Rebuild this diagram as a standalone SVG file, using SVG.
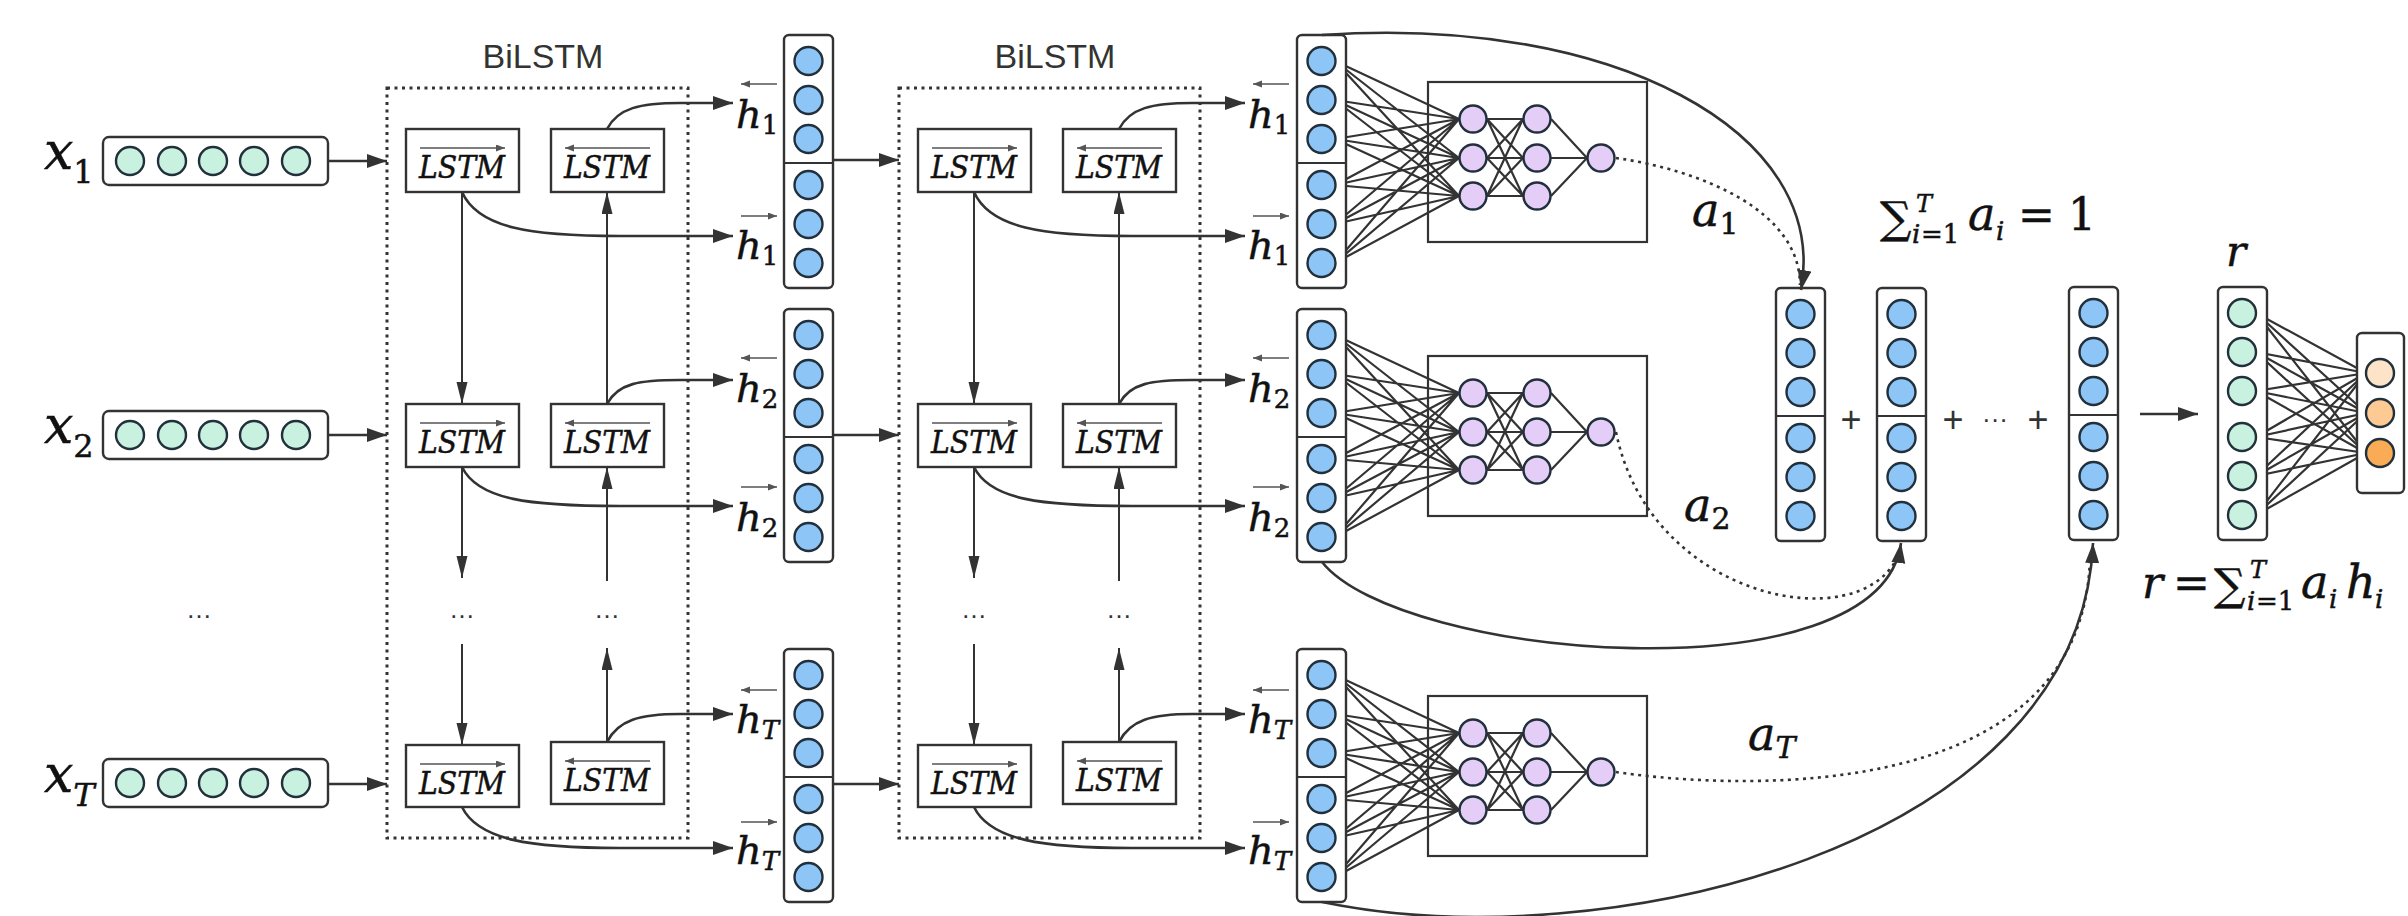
<svg xmlns="http://www.w3.org/2000/svg" width="2408" height="916" viewBox="0 0 2408 916">
<defs>
<style>
.ln{fill:none;stroke:#333;stroke-width:2.2}
.cv{fill:none;stroke:#333;stroke-width:2.6}
.vl{fill:none;stroke:#333;stroke-width:2}
.dt{fill:none;stroke:#333;stroke-width:2.6;stroke-dasharray:3 4.5}
.dbox{fill:none;stroke:#333;stroke-width:3;stroke-dasharray:3 4.5}
.box{fill:#fff;stroke:#333;stroke-width:2.4}
.vec{fill:#fff;stroke:#333;stroke-width:2.4}
.nb{fill:#8ec5f7;stroke:#22303c;stroke-width:2.4}
.ng{fill:#c8f2df;stroke:#22303c;stroke-width:2.4}
.np{fill:#e4cdf7;stroke:#22303c;stroke-width:2.4}
.o1{fill:#fde3c8;stroke:#22303c;stroke-width:2.4}
.o2{fill:#fcca92;stroke:#22303c;stroke-width:2.4}
.o3{fill:#f9ab55;stroke:#22303c;stroke-width:2.4}
.w{fill:none;stroke:#333;stroke-width:2.2}
.m{font-family:"DejaVu Serif","Liberation Serif",serif;font-style:italic;fill:#111;stroke:#111;stroke-width:0.5}
.up{font-style:normal}
.t{font-family:"Liberation Sans",Arial,sans-serif;fill:#333}
.ov{fill:none;stroke:#555;stroke-width:1.6}
</style>
<marker id="ah" markerUnits="userSpaceOnUse" markerWidth="22" markerHeight="16" refX="20" refY="7" orient="auto"><path d="M0,0 L20,7 L0,14 z" fill="#333"/></marker>
<marker id="av" markerUnits="userSpaceOnUse" markerWidth="24" markerHeight="12" refX="22" refY="5.5" orient="auto"><path d="M0,0 L22,5.5 L0,11 z" fill="#333"/></marker>
<marker id="as" markerUnits="userSpaceOnUse" markerWidth="10" markerHeight="8" refX="9" refY="3.5" orient="auto"><path d="M0,0 L9,3.5 L0,7 z" fill="#555"/></marker>
<g id="col6">
<rect class="vec" x="0" y="0" width="49" height="253" rx="5"/>
<line class="w" x1="0" y1="128" x2="49" y2="128"/>
<circle class="nb" cx="24.5" cy="26" r="14"/>
<circle class="nb" cx="24.5" cy="65" r="14"/>
<circle class="nb" cx="24.5" cy="104" r="14"/>
<circle class="nb" cx="24.5" cy="150" r="14"/>
<circle class="nb" cx="24.5" cy="189" r="14"/>
<circle class="nb" cx="24.5" cy="228" r="14"/>
</g>
<g id="xin">
<rect class="vec" x="0" y="0" width="225" height="48" rx="6"/>
<circle class="ng" cx="27" cy="24" r="14"/>
<circle class="ng" cx="69" cy="24" r="14"/>
<circle class="ng" cx="110" cy="24" r="14"/>
<circle class="ng" cx="151" cy="24" r="14"/>
<circle class="ng" cx="193" cy="24" r="14"/>
</g>
<g id="mlp">
<rect class="w" x="131" y="47" width="219" height="160"/>
<path class="ln" d="M38 26L162 84M38 26L162 123M38 26L162 161M38 65L162 84M38 65L162 123M38 65L162 161M38 104L162 84M38 104L162 123M38 104L162 161M38 150L162 84M38 150L162 123M38 150L162 161M38 189L162 84M38 189L162 123M38 189L162 161M38 228L162 84M38 228L162 123M38 228L162 161M190 84L226 84M190 84L226 123M190 84L226 161M190 123L226 84M190 123L226 123M190 123L226 161M190 161L226 84M190 161L226 123M190 161L226 161M254 84L290 123M254 123L290 123M254 161L290 123"/>
<circle class="np" cx="176" cy="84" r="13.5"/>
<circle class="np" cx="176" cy="123" r="13.5"/>
<circle class="np" cx="176" cy="161" r="13.5"/>
<circle class="np" cx="240" cy="84" r="13.5"/>
<circle class="np" cx="240" cy="123" r="13.5"/>
<circle class="np" cx="240" cy="161" r="13.5"/>
<circle class="np" cx="304" cy="123" r="13.5"/>
</g>
</defs>
<rect x="0" y="0" width="2408" height="916" fill="#fff"/>

<!-- inputs -->
<g id="x1"><use href="#xin" x="103" y="137"/><text class="m" x="44" y="169" font-size="52">x<tspan class="up" font-size="32" dy="14">1</tspan></text></g>
<g id="x2"><use href="#xin" x="103" y="411"/><text class="m" x="44" y="443" font-size="52">x<tspan class="up" font-size="32" dy="14">2</tspan></text></g>
<g id="xT"><use href="#xin" x="103" y="759"/><text class="m" x="44" y="792" font-size="52">x<tspan font-size="32" dy="14">T</tspan></text></g>
<text class="t" x="199" y="618" font-size="26" text-anchor="middle">…</text>

<!-- BiLSTM 1 -->
<g id="bilstm1">
<rect class="dbox" x="387" y="88" width="301" height="750"/>
<text class="t" x="543" y="68" font-size="34" text-anchor="middle">BiLSTM</text>
</g>
<g id="lf1_1"><rect class="box" x="406" y="129" width="113" height="63"/><line class="ov" x1="420" y1="148" x2="505" y2="148" marker-end="url(#as)"/><text class="m" x="462" y="178" font-size="31" text-anchor="middle" textLength="86" lengthAdjust="spacingAndGlyphs">LSTM</text></g>
<g id="lb1_1"><rect class="box" x="551" y="129" width="113" height="63"/><line class="ov" x1="650" y1="148" x2="565" y2="148" marker-end="url(#as)"/><text class="m" x="607" y="178" font-size="31" text-anchor="middle" textLength="86" lengthAdjust="spacingAndGlyphs">LSTM</text></g>
<g id="lf1_2"><rect class="box" x="406" y="404" width="113" height="63"/><line class="ov" x1="420" y1="423" x2="505" y2="423" marker-end="url(#as)"/><text class="m" x="462" y="453" font-size="31" text-anchor="middle" textLength="86" lengthAdjust="spacingAndGlyphs">LSTM</text></g>
<g id="lb1_2"><rect class="box" x="551" y="404" width="113" height="63"/><line class="ov" x1="650" y1="423" x2="565" y2="423" marker-end="url(#as)"/><text class="m" x="607" y="453" font-size="31" text-anchor="middle" textLength="86" lengthAdjust="spacingAndGlyphs">LSTM</text></g>
<g id="lf1_T"><rect class="box" x="406" y="745" width="113" height="62"/><line class="ov" x1="420" y1="764" x2="505" y2="764" marker-end="url(#as)"/><text class="m" x="462" y="794" font-size="31" text-anchor="middle" textLength="86" lengthAdjust="spacingAndGlyphs">LSTM</text></g>
<g id="lb1_T"><rect class="box" x="551" y="742" width="113" height="62"/><line class="ov" x1="650" y1="761" x2="565" y2="761" marker-end="url(#as)"/><text class="m" x="607" y="791" font-size="31" text-anchor="middle" textLength="86" lengthAdjust="spacingAndGlyphs">LSTM</text></g>
<text class="t" x="462" y="618" font-size="26" text-anchor="middle">…</text>
<text class="t" x="607" y="618" font-size="26" text-anchor="middle">…</text>

<!-- BiLSTM 1 outputs -->
<g id="h1_1"><use href="#col6" x="784" y="35"/></g>
<g id="h1_2"><use href="#col6" x="784" y="309"/></g>
<g id="h1_T"><use href="#col6" x="784" y="649"/></g>

<!-- BiLSTM 2 -->
<g id="bilstm2">
<rect class="dbox" x="899" y="88" width="301" height="750"/>
<text class="t" x="1055" y="68" font-size="34" text-anchor="middle">BiLSTM</text>
</g>
<g id="lf2_1"><rect class="box" x="918" y="129" width="113" height="63"/><line class="ov" x1="932" y1="148" x2="1017" y2="148" marker-end="url(#as)"/><text class="m" x="974" y="178" font-size="31" text-anchor="middle" textLength="86" lengthAdjust="spacingAndGlyphs">LSTM</text></g>
<g id="lb2_1"><rect class="box" x="1063" y="129" width="113" height="63"/><line class="ov" x1="1162" y1="148" x2="1077" y2="148" marker-end="url(#as)"/><text class="m" x="1119" y="178" font-size="31" text-anchor="middle" textLength="86" lengthAdjust="spacingAndGlyphs">LSTM</text></g>
<g id="lf2_2"><rect class="box" x="918" y="404" width="113" height="63"/><line class="ov" x1="932" y1="423" x2="1017" y2="423" marker-end="url(#as)"/><text class="m" x="974" y="453" font-size="31" text-anchor="middle" textLength="86" lengthAdjust="spacingAndGlyphs">LSTM</text></g>
<g id="lb2_2"><rect class="box" x="1063" y="404" width="113" height="63"/><line class="ov" x1="1162" y1="423" x2="1077" y2="423" marker-end="url(#as)"/><text class="m" x="1119" y="453" font-size="31" text-anchor="middle" textLength="86" lengthAdjust="spacingAndGlyphs">LSTM</text></g>
<g id="lf2_T"><rect class="box" x="918" y="745" width="113" height="62"/><line class="ov" x1="932" y1="764" x2="1017" y2="764" marker-end="url(#as)"/><text class="m" x="974" y="794" font-size="31" text-anchor="middle" textLength="86" lengthAdjust="spacingAndGlyphs">LSTM</text></g>
<g id="lb2_T"><rect class="box" x="1063" y="742" width="113" height="62"/><line class="ov" x1="1162" y1="761" x2="1077" y2="761" marker-end="url(#as)"/><text class="m" x="1119" y="791" font-size="31" text-anchor="middle" textLength="86" lengthAdjust="spacingAndGlyphs">LSTM</text></g>
<text class="t" x="974" y="618" font-size="26" text-anchor="middle">…</text>
<text class="t" x="1119" y="618" font-size="26" text-anchor="middle">…</text>

<!-- BiLSTM 2 outputs + attention MLPs -->
<g id="mlp1"><use href="#mlp" x="1297" y="35"/></g>
<g id="mlp2"><use href="#mlp" x="1297" y="309"/></g>
<g id="mlpT"><use href="#mlp" x="1297" y="649"/></g>
<g id="h2_1"><use href="#col6" x="1297" y="35"/></g>
<g id="h2_2"><use href="#col6" x="1297" y="309"/></g>
<g id="h2_T"><use href="#col6" x="1297" y="649"/></g>

<!-- h labels -->
<g id="hlabels">
<line class="ov" x1="777" y1="84" x2="741" y2="84" marker-end="url(#as)"/><text class="m" x="736" y="128" font-size="40">h<tspan class="up" font-size="26" dy="6">1</tspan></text>
<line class="ov" x1="741" y1="216" x2="777" y2="216" marker-end="url(#as)"/><text class="m" x="736" y="259" font-size="40">h<tspan class="up" font-size="26" dy="6">1</tspan></text>
<line class="ov" x1="777" y1="358" x2="741" y2="358" marker-end="url(#as)"/><text class="m" x="736" y="402" font-size="40">h<tspan class="up" font-size="26" dy="6">2</tspan></text>
<line class="ov" x1="741" y1="487" x2="777" y2="487" marker-end="url(#as)"/><text class="m" x="736" y="531" font-size="40">h<tspan class="up" font-size="26" dy="6">2</tspan></text>
<line class="ov" x1="777" y1="690" x2="741" y2="690" marker-end="url(#as)"/><text class="m" x="736" y="733" font-size="40">h<tspan font-size="26" dy="6">T</tspan></text>
<line class="ov" x1="741" y1="822" x2="777" y2="822" marker-end="url(#as)"/><text class="m" x="736" y="864" font-size="40">h<tspan font-size="26" dy="6">T</tspan></text>
<line class="ov" x1="1289" y1="84" x2="1253" y2="84" marker-end="url(#as)"/><text class="m" x="1248" y="128" font-size="40">h<tspan class="up" font-size="26" dy="6">1</tspan></text>
<line class="ov" x1="1253" y1="216" x2="1289" y2="216" marker-end="url(#as)"/><text class="m" x="1248" y="259" font-size="40">h<tspan class="up" font-size="26" dy="6">1</tspan></text>
<line class="ov" x1="1289" y1="358" x2="1253" y2="358" marker-end="url(#as)"/><text class="m" x="1248" y="402" font-size="40">h<tspan class="up" font-size="26" dy="6">2</tspan></text>
<line class="ov" x1="1253" y1="487" x2="1289" y2="487" marker-end="url(#as)"/><text class="m" x="1248" y="531" font-size="40">h<tspan class="up" font-size="26" dy="6">2</tspan></text>
<line class="ov" x1="1289" y1="690" x2="1253" y2="690" marker-end="url(#as)"/><text class="m" x="1248" y="733" font-size="40">h<tspan font-size="26" dy="6">T</tspan></text>
<line class="ov" x1="1253" y1="822" x2="1289" y2="822" marker-end="url(#as)"/><text class="m" x="1248" y="864" font-size="40">h<tspan font-size="26" dy="6">T</tspan></text>
</g>

<!-- attention sum columns -->
<g id="s1"><use href="#col6" x="1776" y="288"/></g>
<g id="s2"><use href="#col6" x="1877" y="288"/></g>
<g id="sT"><use href="#col6" x="2069" y="287"/></g>
<g id="ops">
<text class="t" x="1851" y="432" font-size="36" text-anchor="middle">+</text>
<text class="t" x="1953" y="432" font-size="36" text-anchor="middle">+</text>
<text class="t" x="1995" y="428" font-size="26" text-anchor="middle">···</text>
<text class="t" x="2038" y="432" font-size="36" text-anchor="middle">+</text>
</g>

<!-- r and output -->
<g id="out_net">
<path class="ln" d="M2256 313L2366 373M2256 313L2366 413M2256 313L2366 453M2256 352L2366 373M2256 352L2366 413M2256 352L2366 453M2256 391L2366 373M2256 391L2366 413M2256 391L2366 453M2256 437L2366 373M2256 437L2366 413M2256 437L2366 453M2256 476L2366 373M2256 476L2366 413M2256 476L2366 453M2256 515L2366 373M2256 515L2366 413M2256 515L2366 453"/>
</g>
<g id="r">
<rect class="vec" x="2218" y="287" width="49" height="253" rx="5"/>
<circle class="ng" cx="2242" cy="313" r="14"/>
<circle class="ng" cx="2242" cy="352" r="14"/>
<circle class="ng" cx="2242" cy="391" r="14"/>
<circle class="ng" cx="2242" cy="437" r="14"/>
<circle class="ng" cx="2242" cy="476" r="14"/>
<circle class="ng" cx="2242" cy="515" r="14"/>
<text class="m" x="2226" y="266" font-size="42">r</text>
</g>
<g id="y">
<rect class="vec" x="2357" y="333" width="47" height="160" rx="5"/>
<circle class="o1" cx="2380" cy="373" r="14"/>
<circle class="o2" cx="2380" cy="413" r="14"/>
<circle class="o3" cx="2380" cy="453" r="14"/>
</g>

<!-- formulas and weights -->
<g id="labels">
<text class="m" x="1692" y="226" font-size="46">a<tspan class="up" font-size="30" dy="8">1</tspan></text>
<text class="m" x="1684" y="521" font-size="46">a<tspan class="up" font-size="30" dy="8">2</tspan></text>
<text class="m" x="1748" y="750" font-size="46">a<tspan font-size="30" dy="8">T</tspan></text>
<text class="m" font-size="44"><tspan class="up" x="1880" y="233">∑</tspan><tspan font-size="24" x="1916" y="212">T</tspan><tspan font-size="26" x="1912" y="243">i</tspan><tspan class="up" font-size="26" x="1921" y="243">=1</tspan><tspan font-size="46" x="1968" y="230">a</tspan><tspan font-size="26" x="1996" y="240">i</tspan><tspan class="up" x="2018" y="230">=</tspan><tspan class="up" x="2068" y="230">1</tspan></text>
<text class="m" font-size="44"><tspan x="2142" y="598">r</tspan><tspan class="up" x="2173" y="598">=</tspan><tspan class="up" x="2214" y="600">∑</tspan><tspan font-size="24" x="2250" y="578">T</tspan><tspan font-size="26" x="2247" y="610">i</tspan><tspan class="up" font-size="26" x="2256" y="610">=1</tspan><tspan font-size="46" x="2301" y="598">a</tspan><tspan font-size="26" x="2329" y="608">i</tspan><tspan font-size="46" x="2346" y="598">h</tspan><tspan font-size="26" x="2375" y="608">i</tspan></text>
</g>

<!-- connectors -->
<g id="connectors">
<path class="cv" d="M328 161H387" marker-end="url(#ah)"/>
<path class="cv" d="M328 435H387" marker-end="url(#ah)"/>
<path class="cv" d="M328 784H387" marker-end="url(#ah)"/>
<path class="cv" d="M834 160H899" marker-end="url(#ah)"/>
<path class="cv" d="M834 435H899" marker-end="url(#ah)"/>
<path class="cv" d="M834 784H899" marker-end="url(#ah)"/>
<path class="cv" d="M2140 414H2198" marker-end="url(#ah)"/>

<path class="vl" d="M462 192V404" marker-end="url(#av)"/>
<path class="vl" d="M462 467V578" marker-end="url(#av)"/>
<path class="vl" d="M462 644V745" marker-end="url(#av)"/>
<path class="vl" d="M607 404V192" marker-end="url(#av)"/>
<path class="vl" d="M607 581V467" marker-end="url(#av)"/>
<path class="vl" d="M607 742V648" marker-end="url(#av)"/>
<path class="vl" d="M974 192V404" marker-end="url(#av)"/>
<path class="vl" d="M974 467V578" marker-end="url(#av)"/>
<path class="vl" d="M974 644V745" marker-end="url(#av)"/>
<path class="vl" d="M1119 404V192" marker-end="url(#av)"/>
<path class="vl" d="M1119 581V467" marker-end="url(#av)"/>
<path class="vl" d="M1119 742V648" marker-end="url(#av)"/>

<path class="cv" d="M607 129C618 108 640 103 680 103L733 103" marker-end="url(#ah)"/>
<path class="cv" d="M462 192C478 228 530 236 620 236L733 236" marker-end="url(#ah)"/>
<path class="cv" d="M607 404C618 383 640 380 680 380L733 380" marker-end="url(#ah)"/>
<path class="cv" d="M462 467C478 500 530 506 620 506L733 506" marker-end="url(#ah)"/>
<path class="cv" d="M607 742C618 720 640 714 680 714L733 714" marker-end="url(#ah)"/>
<path class="cv" d="M462 807C478 840 530 848 620 848L733 848" marker-end="url(#ah)"/>
<path class="cv" d="M1119 129C1130 108 1152 103 1192 103L1245 103" marker-end="url(#ah)"/>
<path class="cv" d="M974 192C990 228 1042 236 1132 236L1245 236" marker-end="url(#ah)"/>
<path class="cv" d="M1119 404C1130 383 1152 380 1192 380L1245 380" marker-end="url(#ah)"/>
<path class="cv" d="M974 467C990 500 1042 506 1132 506L1245 506" marker-end="url(#ah)"/>
<path class="cv" d="M1119 742C1130 720 1152 714 1192 714L1245 714" marker-end="url(#ah)"/>
<path class="cv" d="M974 807C990 840 1042 848 1132 848L1245 848" marker-end="url(#ah)"/>

<path class="dt" d="M1616 158C1700 170 1800 210 1800 285"/>
<path class="cv" d="M1322 35C1610 15 1830 130 1801 290" marker-end="url(#ah)"/>
<path class="dt" d="M1616 432C1650 600 1860 640 1898 556"/>
<path class="cv" d="M1322 562C1400 660 1880 700 1901 543" marker-end="url(#ah)"/>
<path class="dt" d="M1616 772C1700 785 2085 820 2090 556"/>
<path class="cv" d="M1322 902C1600 960 2080 850 2093 543" marker-end="url(#ah)"/>
</g>
</svg>
